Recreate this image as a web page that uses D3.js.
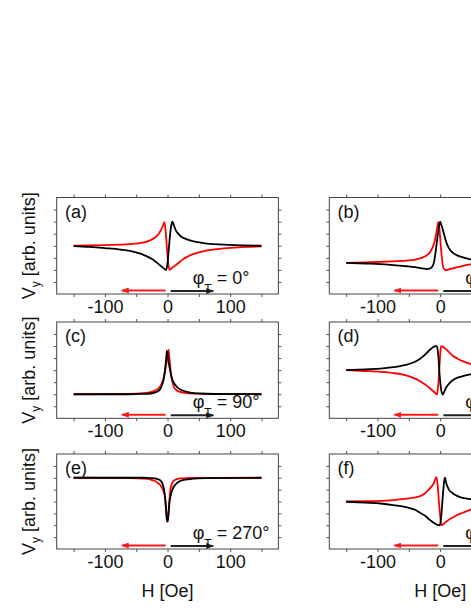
<!DOCTYPE html>
<html>
<head>
<meta charset="utf-8">
<script src="https://cdn.jsdelivr.net/npm/d3@7"></script>
<style>
body { margin: 0; background: #fff; }
text { font-family: "Liberation Sans", Arial, sans-serif; fill: #111; }
</style>
</head>
<body>
<div id="vis-container"></div>
<script>

// field axis
var hTicks = [-150, -100, -50, 0, 50, 100, 150];
var hLabelTicks = [-100, 0, 100];
var hLabels = ["-100", "0", "100"];
var vTicks = [1, 2, 3, 4, 5, 6, 7];

// panel texts
var panelLetters = ["(a)", "(b)", "(c)", "(d)", "(e)", "(f)"];
var phiAngles = ["0°", "45°", "90°", "180°", "270°", "360°"];

// sweep arrows [start, end] in Oe
var arrowRed = [-3, -73];
var arrowBlack = [5, 73];

// curves, [H (Oe), Vy (arb.)]
var redA = [[-150,4.0],[-100,4.06],[-60,4.14],[-40,4.25],[-28,4.45],[-20,4.68],[-14,5.0],[-10,5.35],[-7,5.7],[-5,5.95],[-3,5.2],[-1,3.8],[1,2.6],[3,2.0],[5,2.05],[8,2.2],[12,2.35],[17,2.55],[24,2.85],[32,3.1],[42,3.33],[55,3.52],[75,3.7],[100,3.82],[125,3.9],[150,3.94]];
var blackA = [[-150,3.97],[-125,3.9],[-100,3.8],[-75,3.68],[-55,3.52],[-42,3.33],[-32,3.1],[-24,2.88],[-17,2.6],[-12,2.38],[-8,2.2],[-4,2.05],[-2,2.0],[0,2.6],[2,3.7],[4,4.9],[6,5.7],[8,6.0],[10,5.7],[13,5.3],[17,5.0],[22,4.75],[30,4.55],[40,4.38],[60,4.2],[100,4.07],[150,4.0]];

var redB = [[-150,2.58],[-120,2.62],[-95,2.67],[-75,2.71],[-53,2.77],[-40,2.85],[-32,2.95],[-25,3.1],[-19,3.3],[-14,3.65],[-10,4.15],[-7,4.8],[-5,5.4],[-3,5.95],[-1,5.3],[1,4.0],[3,2.9],[5,2.2],[8,2.0],[10,1.98],[14,2.05],[20,2.12],[26,2.2],[35,2.32],[48,2.45],[70,2.55],[100,2.6],[150,2.62]];
var blackB = [[-150,2.58],[-120,2.53],[-95,2.48],[-75,2.4],[-53,2.3],[-40,2.22],[-32,2.15],[-25,2.1],[-21,2.07],[-17,2.1],[-13.5,2.2],[-10,2.6],[-8,3.2],[-5,4.4],[-3,5.2],[0,6.0],[2,5.7],[5,5.2],[8,4.6],[10,4.27],[14,3.8],[20,3.43],[27,3.2],[34,3.07],[48,2.88],[70,2.75],[100,2.68],[150,2.62]];

var redC = [[-150,2.0],[-60,2.03],[-40,2.08],[-27,2.17],[-20,2.3],[-14,2.5],[-10,2.8],[-6,3.4],[-3,4.2],[-1,4.8],[0.5,5.4],[1.6,5.7],[3,5.0],[5.5,3.7],[8,3.0],[10,2.6],[14,2.35],[20,2.2],[30,2.1],[45,2.05],[70,2.02],[150,2.0]];
var blackC = [[-150,2.0],[-60,2.0],[-40,2.03],[-27,2.06],[-17,2.2],[-12,2.4],[-9,2.75],[-6,3.3],[-3.6,4.25],[-2,5.1],[-1,5.6],[0,5.4],[2,4.6],[4,4.0],[7,3.3],[10,2.95],[15,2.6],[22,2.35],[31,2.2],[42,2.1],[52,2.06],[75,2.02],[150,2.0]];

var redD = [[-150,4.0],[-120,3.93],[-95,3.86],[-75,3.76],[-53,3.55],[-40,3.3],[-32,3.08],[-24,2.8],[-16.5,2.5],[-11,2.25],[-7,2.05],[-5,1.97],[-3,2.8],[-1,4.4],[0.5,5.6],[1.5,6.0],[4,5.95],[7,5.85],[10,5.7],[15,5.45],[20,5.2],[28,4.95],[36,4.75],[48,4.52],[70,4.3],[100,4.15],[150,4.05]];
var blackD = [[-150,4.0],[-120,4.07],[-95,4.13],[-75,4.25],[-53,4.46],[-40,4.7],[-32,4.95],[-25,5.25],[-19,5.55],[-14,5.8],[-10,5.95],[-7,6.0],[-5,5.95],[-3,5.2],[-1,3.7],[1,2.6],[3.7,1.97],[6,2.15],[10,2.6],[15,2.92],[20,3.16],[28,3.38],[36,3.5],[48,3.65],[70,3.8],[100,3.88],[150,3.95]];

var redE = [[-150,6.0],[-60,5.97],[-40,5.93],[-27,5.85],[-20,5.72],[-14,5.5],[-10,5.25],[-6,4.8],[-4,4.3],[-2.5,3.3],[-1,2.6],[0.5,2.3],[2,3.4],[4.3,4.9],[7,5.5],[10,5.75],[15,5.88],[20,5.95],[40,5.98],[150,6.0]];
var blackE = [[-150,6.0],[-40,6.0],[-27,5.97],[-17,5.9],[-12,5.8],[-8,5.5],[-6,5.1],[-4,4.4],[-2.5,3.5],[-1,2.3],[0.5,2.5],[2,3.3],[3,3.9],[5,4.5],[7,4.9],[10,5.25],[14,5.5],[20,5.72],[28,5.84],[41,5.92],[60,5.96],[150,6.0]];

var redF = [[-150,4.0],[-120,4.02],[-95,4.05],[-75,4.12],[-53,4.25],[-40,4.35],[-32,4.45],[-25,4.65],[-19,4.95],[-14,5.25],[-10,5.55],[-8,5.85],[-6,6.05],[-4,5.4],[-2,4.0],[0,2.8],[2,2.0],[5,2.1],[10,2.3],[15,2.5],[20,2.65],[28,2.88],[36,3.05],[48,3.3],[70,3.55],[100,3.75],[150,3.9]];
var blackF = [[-150,3.98],[-120,3.9],[-95,3.83],[-75,3.7],[-53,3.5],[-40,3.3],[-32,3.05],[-24,2.8],[-16.5,2.45],[-10,2.2],[-5,2.05],[-0.5,2.0],[2,2.9],[4,4.3],[6,5.5],[7.5,6.0],[10,5.5],[14,5.0],[20,4.7],[28,4.45],[36,4.3],[48,4.2],[70,4.12],[100,4.06],[150,4.02]];

var redCurves = [redA, redB, redC, redD, redE, redF];
var blackCurves = [blackA, blackB, blackC, blackD, blackE, blackF];

// layout
var width = 471, height = 609;
var colLeft = [56.7, 329.3];
var colWidth = 221.7;
var rowTop = [197.5, 322, 454];
var rowBottom = [294, 418.3, 549];

var svg = d3.select("#vis-container")
	.append("svg")
	.attr("width", width)
	.attr("height", height);

var defs = svg.append("defs");
[["arrRed", "#ff1a1a"], ["arrBlack", "#222"]].forEach(function(m) {
	defs.append("marker")
		.attr("id", m[0])
		.attr("markerUnits", "userSpaceOnUse")
		.attr("markerWidth", 8)
		.attr("markerHeight", 6)
		.attr("refX", 7)
		.attr("refY", 3)
		.attr("orient", "auto")
		.append("path")
		.attr("d", "M0,0L8,3L0,6Z")
		.attr("fill", m[1]);
});

panelLetters.forEach(function(letter, i) {
	var row = Math.floor(i / 2), col = i % 2;
	var x0 = colLeft[col], y0 = rowTop[row], y1 = rowBottom[row];

	var xscale = d3.scaleLinear().domain([-177, 177]).range([x0, x0 + colWidth]);
	var yscale = d3.scaleLinear().domain([0, 8]).range([y1, y0]);

	var g = svg.append("g");

	// axes (ticks outward, frame drawn separately)
	var xb = g.append("g")
		.attr("transform", "translate(0," + y1 + ")")
		.call(d3.axisBottom(xscale).tickValues(hTicks).tickSize(3).tickPadding(3)
			.tickFormat(function(d) {
				var k = hLabelTicks.indexOf(d);
				return k < 0 ? "" : hLabels[k];
			}));
	var xt = g.append("g")
		.attr("transform", "translate(0," + y0 + ")")
		.call(d3.axisTop(xscale).tickValues(hTicks).tickSize(3).tickFormat(""));
	var yl = g.append("g")
		.attr("transform", "translate(" + x0 + ",0)")
		.call(d3.axisLeft(yscale).tickValues(vTicks).tickSize(3).tickFormat(""));
	var yr = g.append("g")
		.attr("transform", "translate(" + (x0 + colWidth) + ",0)")
		.call(d3.axisRight(yscale).tickValues(vTicks).tickSize(3).tickFormat(""));

	[xb, xt, yl, yr].forEach(function(a) {
		a.select(".domain").remove();
		a.selectAll(".tick line").attr("stroke", "#555");
	});
	xb.selectAll(".tick text")
		.style("font-size", "18px")
		.style("font-family", "'Liberation Sans', Arial, sans-serif")
		.attr("fill", "#111");

	g.append("rect")
		.attr("x", x0)
		.attr("y", y0)
		.attr("width", colWidth)
		.attr("height", y1 - y0)
		.attr("fill", "none")
		.attr("stroke", "#444")
		.attr("stroke-width", 1);

	var line = d3.line()
		.x(function(d) { return xscale(d[0]); })
		.y(function(d) { return yscale(d[1]); })
		.curve(d3.curveMonotoneX);

	g.append("path")
		.attr("d", line(redCurves[i]))
		.attr("fill", "none")
		.attr("stroke", "#ff0000")
		.attr("stroke-width", 1.8);

	g.append("path")
		.attr("d", line(blackCurves[i]))
		.attr("fill", "none")
		.attr("stroke", "#000")
		.attr("stroke-width", 1.8);

	// sweep direction arrows
	g.append("line")
		.attr("x1", xscale(arrowRed[0])).attr("x2", xscale(arrowRed[1]))
		.attr("y1", y1 - 3.5).attr("y2", y1 - 3.5)
		.attr("stroke", "#ff1a1a")
		.attr("stroke-width", 2)
		.attr("marker-end", "url(#arrRed)");
	g.append("line")
		.attr("x1", xscale(arrowBlack[0])).attr("x2", xscale(arrowBlack[1]))
		.attr("y1", y1 - 3).attr("y2", y1 - 3)
		.attr("stroke", "#222")
		.attr("stroke-width", 2)
		.attr("marker-end", "url(#arrBlack)");

	// panel letter
	g.append("text")
		.attr("x", x0 + 8.3)
		.attr("y", y0 + 20)
		.style("font-size", "18px")
		.text(letter);

	// phi_T label
	var phi = g.append("text")
		.attr("x", x0 + 136)
		.attr("y", y1 - 10.5)
		.style("font-size", "18px");
	phi.append("tspan").text("φ");
	phi.append("tspan").attr("dy", 9.5).style("font-size", "12px").text("T");
	phi.append("tspan").attr("dy", -9.5).text(" = " + phiAngles[i]);

	// y label, left column only
	if (col === 0) {
		var yt = g.append("text")
			.attr("transform", "translate(35," + ((y0 + y1) / 2) + ") rotate(-90)")
			.attr("text-anchor", "middle")
			.style("font-size", "18px");
		yt.append("tspan").text("V");
		yt.append("tspan").attr("dy", 5).style("font-size", "12px").text("y");
		yt.append("tspan").attr("dy", -5).text(" [arb. units]");
	}

	// x label, bottom row only
	if (row === 2) {
		g.append("text")
			.attr("x", x0 + colWidth / 2)
			.attr("y", 597)
			.attr("text-anchor", "middle")
			.style("font-size", "18px")
			.text("H [Oe]");
	}
});

</script>
</body>
</html>
